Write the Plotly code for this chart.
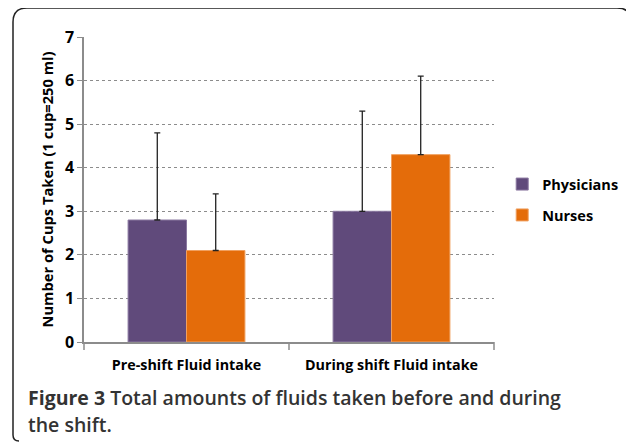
import plotly.graph_objects as go

categories = ["Pre-shift Fluid intake", "During shift Fluid intake"]
physicians = [2.8, 3.0]
physicians_sd = [2.0, 2.3]
nurses = [2.1, 4.3]
nurses_sd = [1.3, 1.8]
y_ticks = [0, 1, 2, 3, 4, 5, 6, 7]

# the page body adds an 8px offset; compensate so the chart lands where intended
OFF = 8
VW, VH = 634, 443
W, H = VW - OFF, VH - OFF
# target plot area in viewport pixels
PL, PR, PT, PB = 84, 494, 37, 342
ML, MT = PL - OFF, PT - OFF
MR, MB = W - (PR - OFF), H - (PB - OFF)
PW, PH = PR - PL, PB - PT

def px(x):
    return (x - PL) / PW

def py(y):
    return (PB - y) / PH

fig = go.Figure()
fig.add_trace(go.Bar(
    x=categories, y=physicians, name="Physicians", legendgroup="p",
    marker=dict(color="#604A7B", line=dict(color="#8A78A0", width=1)),
    error_y=dict(type="data", array=physicians_sd, arrayminus=[0, 0], symmetric=False,
                 color="#222222", thickness=1.3, width=3),
))
fig.add_trace(go.Bar(
    x=categories, y=nurses, name="Nurses", legendgroup="n",
    marker=dict(color="#E46C0A", line=dict(color="#F0A060", width=1)),
    error_y=dict(type="data", array=nurses_sd, arrayminus=[0, 0], symmetric=False,
                 color="#222222", thickness=1.3, width=3),
))

font_family = "Open Sans, Lato, sans-serif"

# rounded border around the figure
x0, y0, x1, y1 = 13, 8, 631, 441
r = 14
path = (f"M {px(x0)},{py(y0 + r)} "
        f"Q {px(x0)},{py(y0)} {px(x0 + r)},{py(y0)} "
        f"L {px(x1 - r)},{py(y0)} "
        f"Q {px(x1)},{py(y0)} {px(x1)},{py(y0 + r)} "
        f"L {px(x1)},{py(y1)} "
        f"M {px(x0)},{py(y0 + r)} L {px(x0)},{py(y1 - 6)} "
        f"Q {px(x0)},{py(y1)} {px(x0 + 6)},{py(y1)}")

fig.update_layout(
    width=W, height=H,
    margin=dict(l=ML, r=MR, t=MT, b=MB, autoexpand=False),
    paper_bgcolor="white", plot_bgcolor="white",
    barmode="group", bargap=0.43, bargroupgap=0,
    font=dict(family=font_family, color="#000000"),
    showlegend=True,
    legend=dict(x=1.02, y=0.57, xanchor="left", yanchor="top",
                font=dict(size=14.5, weight="bold", family=font_family),
                tracegroupgap=9, itemwidth=30, bgcolor="rgba(0,0,0,0)"),
    xaxis=dict(
        showline=True, linecolor="#8C8C8C", linewidth=1.5,
        ticks="", tickfont=dict(size=14.3, weight="bold"),
        ticklabelstandoff=9,
        showgrid=False,
    ),
    yaxis=dict(
        range=[0, 7], tickvals=y_ticks, ticktext=[str(v) for v in y_ticks],
        showline=True, linecolor="#8C8C8C", linewidth=1.5,
        ticks="outside", ticklen=5, tickcolor="#8C8C8C",
        tickfont=dict(size=16, weight="bold"),
        showgrid=True, gridcolor="#8C8C8C", griddash="dot", gridwidth=1,
        zeroline=False,
        title=dict(text="Number of Cups Taken (1 cup=250 ml)",
                   font=dict(size=14.7, weight="bold"), standoff=8),
    ),
    shapes=[
        dict(type="path", xref="paper", yref="paper", path=path,
             line=dict(color="#222222", width=1.5)),
        dict(type="line", xref="paper", yref="paper", x0=0.5, x1=0.5, y0=0, y1=py(350),
             line=dict(color="#8C8C8C", width=1.5)),
        dict(type="line", xref="paper", yref="paper", x0=0, x1=0, y0=0, y1=py(350),
             line=dict(color="#8C8C8C", width=1.5)),
        dict(type="line", xref="paper", yref="paper", x0=1, x1=1, y0=0, y1=py(350),
             line=dict(color="#8C8C8C", width=1.5)),
    ],
    annotations=[
        dict(xref="paper", yref="paper", x=px(26), y=py(397), xanchor="left", yanchor="middle",
             showarrow=False, align="left",
             text="<b>Figure 3</b> Total amounts of fluids taken before and during",
             font=dict(size=19.5, color="#333333", weight=600, family=font_family)),
        dict(xref="paper", yref="paper", x=px(26), y=py(424), xanchor="left", yanchor="middle",
             showarrow=False, align="left",
             text="the shift.",
             font=dict(size=19.5, color="#333333", weight=600, family=font_family)),
    ],
)

fig.write_html("out.html")
